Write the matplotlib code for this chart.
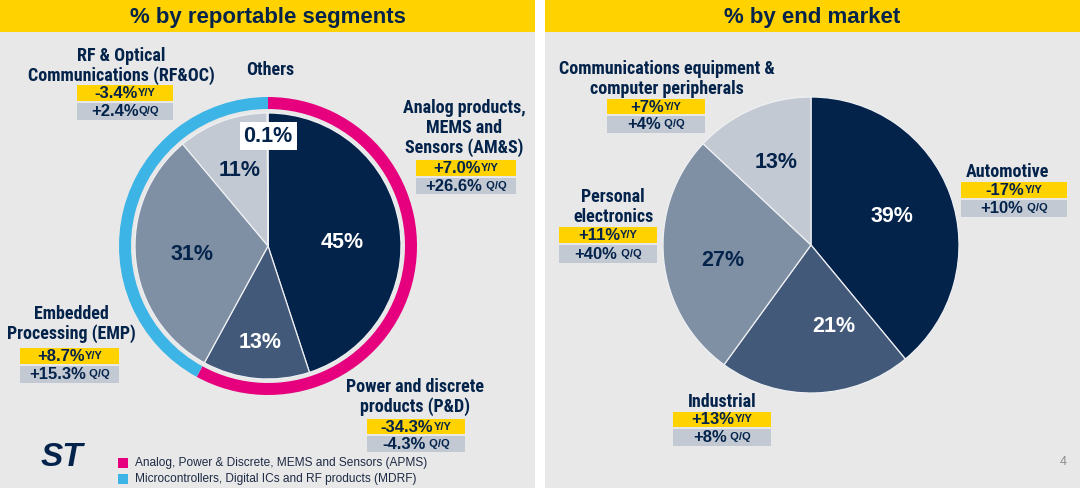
import matplotlib
matplotlib.use('Agg')
import matplotlib.pyplot as plt
from matplotlib.patches import Rectangle
from matplotlib import font_manager

W, H = 1080, 488

# % by reportable segments
seg_names = ['Analog products,\nMEMS and\nSensors (AM&S)', 'Power and discrete\nproducts (P&D)',
             'Embedded\nProcessing (EMP)', 'RF & Optical\nCommunications (RF&OC)', 'Others']
seg_share = [45, 13, 31, 11, 0.1]
seg_pct = ['45%', '13%', '31%', '11%', '0.1%']
seg_yy = ['+7.0%', '-34.3%', '+8.7%', '-3.4%', None]
seg_qq = ['+26.6%', '-4.3%', '+15.3%', '+2.4%', None]
seg_qq_sfx = [' Q/Q', ' Q/Q', ' Q/Q', 'Q/Q', None]
seg_group = ['APMS', 'APMS', 'MDRF', 'MDRF', 'MDRF']
group_names = ['APMS', 'MDRF']
group_legend = ['Analog, Power & Discrete, MEMS and Sensors (APMS)',
                'Microcontrollers, Digital ICs and RF products (MDRF)']

# % by end market
mkt_names = ['Automotive', 'Industrial', 'Personal\nelectronics',
             'Communications equipment &\ncomputer peripherals']
mkt_share = [39, 21, 27, 13]
mkt_pct = ['39%', '21%', '27%', '13%']
mkt_yy = ['-17%', '+13%', '+11%', '+7%']
mkt_qq = ['+10%', '+8%', '+40%', '+4%']

NAVY = '#03234b'
YELLOW = '#ffd200'
PANEL = '#e8e8e8'
BOXGRAY = '#c3c9d2'
slice_colors = ['#03234b', '#43597a', '#7f8fa4', '#c2c9d2', '#c2c9d2']
dark_slice = [True, True, False, False, False]
group_colors = {'APMS': '#e6007e', 'MDRF': '#3cb4e6'}

MAIN_FONT = ['Liberation Sans', 'DejaVu Sans']

# the slide uses a narrow bold face for the category names; use one if it is there
LABEL_FONT, LABEL_SIZE = MAIN_FONT, 10.8
for fam in ['Liberation Sans Narrow', 'Roboto Condensed', 'Open Sans Condensed', 'Arial Narrow']:
    try:
        font_manager.findfont(font_manager.FontProperties(family=fam), fallback_to_default=False)
        LABEL_FONT, LABEL_SIZE = [fam] + MAIN_FONT, 13
        break
    except ValueError:
        pass

# layout (pixels, y measured from top)
seg_center, seg_r = (268, 246), 133
mkt_center, mkt_r = (811, 245), 148
seg_label_pos = [(464, 128), (415, 397), (71, 324), (121, 66), (270, 70)]
seg_box_x = [(416, 516), (367, 465), (20, 119), (77, 173), None]
seg_box_y = [(160, 176, 194), (419, 434, 452), (348, 364, 383), (85, 101, 120), None]
seg_pct_pos = [(342, 243), (260, 343), (192, 255), (240, 170), (268, 136)]
mkt_label_pos = [(1008, 172), (722, 402), (613, 207), (667, 79)]
mkt_box_x = [(961, 1067), (673, 771), (559, 657), (607, 705)]
mkt_box_y = [(182, 198, 217), (412, 427, 446), (227, 243, 263), (99, 114, 133)]
mkt_pct_pos = [(892, 217), (834, 327), (723, 261), (776, 163)]


def Y(y):
    return H - y


fig = plt.figure(figsize=(W / 100, H / 100), dpi=100)
fig.patch.set_facecolor('white')
ax = fig.add_axes([0, 0, 1, 1])
renderer = fig.canvas.get_renderer()

# panels and title bars
for x0, x1, title in [(0, 535, '% by reportable segments'), (545, 1080, '% by end market')]:
    ax.add_patch(Rectangle((x0, 0), x1 - x0, H, facecolor=PANEL, edgecolor='none', zorder=0))
    ax.add_patch(Rectangle((x0, Y(32)), x1 - x0, 32, facecolor=YELLOW, edgecolor='none', zorder=1))
    ax.text((x0 + x1) / 2, Y(17), title, ha='center', va='center', fontsize=16,
            fontweight='bold', color=NAVY, family=MAIN_FONT, zorder=2)

# ring showing the group split
group_share = [sum(s for s, g in zip(seg_share, seg_group) if g == name) for name in group_names]
ax.pie(group_share, colors=[group_colors[g] for g in group_names], radius=149,
       center=(seg_center[0], Y(seg_center[1])), startangle=90, counterclock=False,
       wedgeprops=dict(width=12, edgecolor='none'), frame=True)

ax.pie(seg_share, colors=slice_colors, radius=seg_r,
       center=(seg_center[0], Y(seg_center[1])), startangle=90, counterclock=False,
       wedgeprops=dict(edgecolor='#eef0f3', linewidth=0.9), frame=True)

ax.pie(mkt_share, colors=slice_colors[:4], radius=mkt_r,
       center=(mkt_center[0], Y(mkt_center[1])), startangle=90, counterclock=False,
       wedgeprops=dict(edgecolor='#eef0f3', linewidth=0.9), frame=True)


def growth_box(xr, yr, main, suffix, face):
    x0, x1 = xr
    y0, y1 = yr
    ax.add_patch(Rectangle((x0, Y(y1)), x1 - x0, y1 - y0, facecolor=face, edgecolor='none', zorder=3))
    t = ax.text(0, Y((y0 + y1) / 2 + 0.5), main, ha='left', va='center', fontsize=12,
                fontweight='bold', color=NAVY, family=MAIN_FONT, zorder=4)
    s = ax.annotate(suffix, xy=(1, 0.2), xycoords=t, ha='left', va='bottom', fontsize=8,
                    fontweight='bold', color=NAVY, family=MAIN_FONT, zorder=4)
    w1 = t.get_window_extent(renderer).width
    w2 = s.get_window_extent(renderer).width
    t.set_x((x0 + x1) / 2 - (w1 + w2) / 2)


def category_label(pos, name):
    ax.text(pos[0], Y(pos[1]), name, ha='center', va='center', fontsize=LABEL_SIZE,
            fontweight='bold', color=NAVY, family=LABEL_FONT,
            linespacing=1.13 * 13 / LABEL_SIZE, zorder=4)


for i, name in enumerate(seg_names):
    category_label(seg_label_pos[i], name)
    if seg_yy[i] is not None:
        ya, yb, yc = seg_box_y[i]
        growth_box(seg_box_x[i], (ya, yb), seg_yy[i], 'Y/Y', YELLOW)
        growth_box(seg_box_x[i], (yb + 1.5, yc), seg_qq[i], seg_qq_sfx[i], BOXGRAY)
    px, py = seg_pct_pos[i]
    if seg_share[i] < 1:
        ax.text(px, Y(py), seg_pct[i], ha='center', va='center', fontsize=15.5, fontweight='bold',
                color=NAVY, family=MAIN_FONT, zorder=5,
                bbox=dict(boxstyle='square,pad=0.18', facecolor='white', edgecolor='none'))
    else:
        ax.text(px, Y(py), seg_pct[i], ha='center', va='center', fontsize=15.5, fontweight='bold',
                color='white' if dark_slice[i] else NAVY, family=MAIN_FONT, zorder=5)

for i, name in enumerate(mkt_names):
    category_label(mkt_label_pos[i], name)
    ya, yb, yc = mkt_box_y[i]
    growth_box(mkt_box_x[i], (ya, yb), mkt_yy[i], 'Y/Y', YELLOW)
    growth_box(mkt_box_x[i], (yb + 1.5, yc), mkt_qq[i], ' Q/Q', BOXGRAY)
    px, py = mkt_pct_pos[i]
    ax.text(px, Y(py), mkt_pct[i], ha='center', va='center', fontsize=15.5, fontweight='bold',
            color='white' if dark_slice[i] else NAVY, family=MAIN_FONT, zorder=5)

# legend for the ring
for k, name in enumerate(group_names):
    yc = 463 + k * 16
    ax.add_patch(Rectangle((118, Y(yc + 5)), 10, 10, facecolor=group_colors[name], edgecolor='none'))
    ax.text(135, Y(yc), group_legend[k], ha='left', va='center', fontsize=8.6,
            color='#1e2a44', family=MAIN_FONT)

# logo and page number
ax.text(62, Y(457), 'ST', ha='center', va='center', fontsize=24, fontweight='bold',
        fontstyle='italic', color=NAVY, family=MAIN_FONT)
ax.text(1063, Y(462), '4', ha='center', va='center', fontsize=9, color='#8a8a8a', family=MAIN_FONT)

ax.set_xlim(0, W)
ax.set_ylim(0, H)
ax.set_aspect('auto')
ax.set_axis_off()

fig.savefig('out.png', dpi=100, facecolor=fig.get_facecolor())
